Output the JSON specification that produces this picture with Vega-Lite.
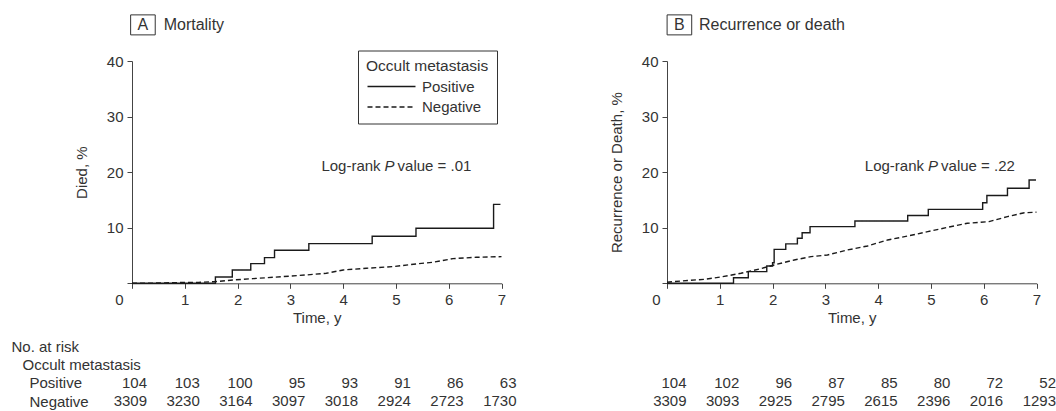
{
  "$schema": "https://vega.github.io/schema/vega-lite/v6.json",
  "padding": {"left": 11, "top": 12, "right": 0, "bottom": 0},
  "config": {
    "font": "Liberation Sans",
    "view": {"stroke": null},
    "axis": {
      "labelFont": "Liberation Sans", "labelFontSize": 15, "labelColor": "#333",
      "titleFont": "Liberation Sans", "titleFontSize": 15, "titleFontWeight": "normal", "titleColor": "#333",
      "domainColor": "#444", "tickColor": "#444", "grid": false, "tickSize": 5, "labelPadding": 4, "labelFlush": false
    },
    "legend": {
      "labelFont": "Liberation Sans", "labelFontSize": 15, "labelColor": "#333",
      "titleFont": "Liberation Sans", "titleFontSize": 15.5, "titleFontWeight": "normal", "titleColor": "#333"
    },
    "text": {"font": "Liberation Sans", "fontSize": 15, "color": "#333"}
  },
  "datasets": {
    "mort": [
      {"group": "Positive", "time": 0, "pct": 0},
      {"group": "Positive", "time": 1.58, "pct": 1.14},
      {"group": "Positive", "time": 1.90, "pct": 2.4},
      {"group": "Positive", "time": 2.25, "pct": 3.54},
      {"group": "Positive", "time": 2.51, "pct": 4.62},
      {"group": "Positive", "time": 2.70, "pct": 5.94},
      {"group": "Positive", "time": 3.35, "pct": 7.14},
      {"group": "Positive", "time": 4.55, "pct": 8.46},
      {"group": "Positive", "time": 5.38, "pct": 9.9},
      {"group": "Positive", "time": 6.85, "pct": 14.2},
      {"group": "Positive", "time": 6.98, "pct": 14.2},
      {"group": "Negative", "time": 0, "pct": 0},
      {"group": "Negative", "time": 0.5, "pct": 0.05},
      {"group": "Negative", "time": 1.0, "pct": 0.15},
      {"group": "Negative", "time": 1.28, "pct": 0.18},
      {"group": "Negative", "time": 1.58, "pct": 0.3},
      {"group": "Negative", "time": 1.91, "pct": 0.6},
      {"group": "Negative", "time": 2.29, "pct": 0.84},
      {"group": "Negative", "time": 2.67, "pct": 1.08},
      {"group": "Negative", "time": 3.3, "pct": 1.5},
      {"group": "Negative", "time": 3.68, "pct": 1.8},
      {"group": "Negative", "time": 4.0, "pct": 2.4},
      {"group": "Negative", "time": 4.44, "pct": 2.7},
      {"group": "Negative", "time": 4.94, "pct": 3.0},
      {"group": "Negative", "time": 5.38, "pct": 3.48},
      {"group": "Negative", "time": 5.7, "pct": 3.78},
      {"group": "Negative", "time": 6.08, "pct": 4.44},
      {"group": "Negative", "time": 6.52, "pct": 4.68},
      {"group": "Negative", "time": 7.0, "pct": 4.8}
    ],
    "rec": [
      {"group": "Positive", "time": 0, "pct": 0},
      {"group": "Positive", "time": 1.26, "pct": 1.0},
      {"group": "Positive", "time": 1.54, "pct": 2.1},
      {"group": "Positive", "time": 1.89, "pct": 3.1},
      {"group": "Positive", "time": 2.0, "pct": 3.7},
      {"group": "Positive", "time": 2.03, "pct": 6.1},
      {"group": "Positive", "time": 2.25, "pct": 7.1},
      {"group": "Positive", "time": 2.47, "pct": 8.1},
      {"group": "Positive", "time": 2.56, "pct": 9.1},
      {"group": "Positive", "time": 2.71, "pct": 10.2},
      {"group": "Positive", "time": 3.56, "pct": 11.2},
      {"group": "Positive", "time": 4.56, "pct": 12.2},
      {"group": "Positive", "time": 4.95, "pct": 13.3},
      {"group": "Positive", "time": 5.98, "pct": 14.5},
      {"group": "Positive", "time": 6.06, "pct": 15.8},
      {"group": "Positive", "time": 6.45, "pct": 17.1},
      {"group": "Positive", "time": 6.86, "pct": 18.6},
      {"group": "Positive", "time": 6.99, "pct": 18.6},
      {"group": "Negative", "time": 0, "pct": 0.2},
      {"group": "Negative", "time": 0.39, "pct": 0.5},
      {"group": "Negative", "time": 0.71, "pct": 0.72},
      {"group": "Negative", "time": 1.02, "pct": 1.14},
      {"group": "Negative", "time": 1.4, "pct": 1.8},
      {"group": "Negative", "time": 1.78, "pct": 2.64},
      {"group": "Negative", "time": 2.03, "pct": 3.3},
      {"group": "Negative", "time": 2.41, "pct": 4.2},
      {"group": "Negative", "time": 2.73, "pct": 4.8},
      {"group": "Negative", "time": 3.04, "pct": 5.1},
      {"group": "Negative", "time": 3.42, "pct": 6.0},
      {"group": "Negative", "time": 3.8, "pct": 6.72},
      {"group": "Negative", "time": 4.18, "pct": 7.8},
      {"group": "Negative", "time": 4.56, "pct": 8.5},
      {"group": "Negative", "time": 4.94, "pct": 9.3},
      {"group": "Negative", "time": 5.32, "pct": 10.08},
      {"group": "Negative", "time": 5.69, "pct": 10.8},
      {"group": "Negative", "time": 6.1, "pct": 11.1},
      {"group": "Negative", "time": 6.45, "pct": 12.0},
      {"group": "Negative", "time": 6.77, "pct": 12.7},
      {"group": "Negative", "time": 7.0, "pct": 12.8}
    ],
    "riskA": [
      {"row": "Positive", "time": 0, "n": 104}, {"row": "Positive", "time": 1, "n": 103},
      {"row": "Positive", "time": 2, "n": 100}, {"row": "Positive", "time": 3, "n": 95},
      {"row": "Positive", "time": 4, "n": 93}, {"row": "Positive", "time": 5, "n": 91},
      {"row": "Positive", "time": 6, "n": 86}, {"row": "Positive", "time": 7, "n": 63},
      {"row": "Negative", "time": 0, "n": 3309}, {"row": "Negative", "time": 1, "n": 3230},
      {"row": "Negative", "time": 2, "n": 3164}, {"row": "Negative", "time": 3, "n": 3097},
      {"row": "Negative", "time": 4, "n": 3018}, {"row": "Negative", "time": 5, "n": 2924},
      {"row": "Negative", "time": 6, "n": 2723}, {"row": "Negative", "time": 7, "n": 1730}
    ],
    "riskB": [
      {"row": "Positive", "time": 0, "n": 104}, {"row": "Positive", "time": 1, "n": 102},
      {"row": "Positive", "time": 2, "n": 96}, {"row": "Positive", "time": 3, "n": 87},
      {"row": "Positive", "time": 4, "n": 85}, {"row": "Positive", "time": 5, "n": 80},
      {"row": "Positive", "time": 6, "n": 72}, {"row": "Positive", "time": 7, "n": 52},
      {"row": "Negative", "time": 0, "n": 3309}, {"row": "Negative", "time": 1, "n": 3093},
      {"row": "Negative", "time": 2, "n": 2925}, {"row": "Negative", "time": 3, "n": 2795},
      {"row": "Negative", "time": 4, "n": 2615}, {"row": "Negative", "time": 5, "n": 2396},
      {"row": "Negative", "time": 6, "n": 2016}, {"row": "Negative", "time": 7, "n": 1293}
    ]
  },
  "resolve": {"scale": {"strokeDash": "independent"}, "legend": {"strokeDash": "independent"}},
  "spacing": 92,
  "hconcat": [
    {
      "spacing": 11,
      "vconcat": [
        {
          "width": 369.5, "height": 222.3,
          "layer": [
            {
              "data": {"name": "mort"},
              "transform": [{"filter": "datum.group === 'Positive'"}],
              "mark": {"type": "line", "interpolate": "step-after", "stroke": "#1a1a1a", "strokeWidth": 1.4},
              "encoding": {
                "x": {"field": "time", "type": "quantitative", "scale": {"domain": [0, 7], "nice": false, "zero": false},
                  "axis": {"title": "Time, y", "values": [0, 1, 2, 3, 4, 5, 6, 7], "format": "d", "titlePadding": 3,
                    "labelOffset": {"condition": {"test": "datum.value === 0", "value": -13}, "value": 0}}},
                "y": {"field": "pct", "type": "quantitative", "scale": {"domain": [0, 40], "nice": false},
                  "axis": {"title": "Died, %", "values": [0, 10, 20, 30, 40], "format": "d", "titlePadding": 17,
                    "labelExpr": "datum.value === 0 ? '' : datum.label"}},
                "strokeDash": {"field": "group", "type": "nominal",
                  "scale": {"domain": ["Positive", "Negative"], "range": [[1, 0], [5, 3]]},
                  "legend": {"title": "Occult metastasis", "orient": "none", "legendX": 226, "legendY": -10.5,
                    "strokeColor": "#333", "padding": 8, "symbolType": "M-1,0H7", "symbolSize": 144,
                    "symbolStrokeWidth": 1.3, "symbolStrokeColor": "#1a1a1a", "symbolFillColor": "transparent",
                    "rowPadding": 4.5, "titlePadding": 5, "labelOffset": 41}}
              }
            },
            {
              "data": {"name": "mort"},
              "transform": [{"filter": "datum.group === 'Negative'"}],
              "mark": {"type": "line", "stroke": "#1a1a1a", "strokeWidth": 1.4},
              "encoding": {
                "x": {"field": "time", "type": "quantitative", "scale": {"domain": [0, 7], "nice": false, "zero": false},
                  "axis": {"title": "Time, y", "values": [0, 1, 2, 3, 4, 5, 6, 7], "format": "d", "titlePadding": 3,
                    "labelOffset": {"condition": {"test": "datum.value === 0", "value": -13}, "value": 0}}},
                "y": {"field": "pct", "type": "quantitative", "scale": {"domain": [0, 40], "nice": false},
                  "axis": {"title": "Died, %", "values": [0, 10, 20, 30, 40], "format": "d", "titlePadding": 17,
                    "labelExpr": "datum.value === 0 ? '' : datum.label"}},
                "strokeDash": {"field": "group", "type": "nominal",
                  "scale": {"domain": ["Positive", "Negative"], "range": [[1, 0], [5, 3]]}}
              }
            },
            {
              "data": {"values": [{"label": "Log-rank"}]},
              "mark": {"type": "text", "align": "right", "baseline": "middle", "dx": -9},
              "encoding": {"x": {"datum": 4.88}, "y": {"datum": 21.1}, "text": {"field": "label"}}
            },
            {
              "data": {"values": [{"label": "P"}]},
              "mark": {"type": "text", "fontStyle": "italic", "align": "center", "baseline": "middle"},
              "encoding": {"x": {"datum": 4.88}, "y": {"datum": 21.1}, "text": {"field": "label"}}
            },
            {
              "data": {"values": [{"label": "value = .01"}]},
              "mark": {"type": "text", "align": "left", "baseline": "middle", "dx": 8},
              "encoding": {"x": {"datum": 4.88}, "y": {"datum": 21.1}, "text": {"field": "label"}}
            },
            {
              "data": {"values": [{"label": "A"}]},
              "mark": {"type": "point", "shape": "M-1.23,-1H1.23V1H-1.23Z", "size": 400, "filled": false,
                "stroke": "#333", "strokeWidth": 1, "opacity": 1},
              "encoding": {"x": {"datum": 0.207}, "y": {"datum": 46.5}}
            },
            {
              "data": {"values": [{"label": "A"}]},
              "mark": {"type": "text", "fontSize": 16, "align": "center", "baseline": "middle"},
              "encoding": {"x": {"datum": 0.207}, "y": {"datum": 46.5}, "text": {"field": "label"}}
            },
            {
              "data": {"values": [{"label": "Mortality"}]},
              "mark": {"type": "text", "fontSize": 16, "align": "left", "baseline": "middle"},
              "encoding": {"x": {"datum": 0.6}, "y": {"datum": 46.5}, "text": {"field": "label"}}
            }
          ]
        },
        {
          "width": 369.5, "height": 73.2,
          "data": {"name": "riskA"},
          "mark": {"type": "text", "align": "right", "baseline": "middle", "dx": 15},
          "encoding": {
            "x": {"field": "time", "type": "quantitative", "scale": {"domain": [0, 7], "nice": false, "zero": false}, "axis": null},
            "y": {"field": "row", "type": "nominal",
              "scale": {"type": "point", "domain": ["No. at risk", "Occult metastasis", "Positive", "Negative"], "padding": 0.5},
              "axis": {"title": null, "domain": false, "ticks": false, "labelAlign": "left", "labelBaseline": "middle",
                "labelPadding": {"condition": [
                  {"test": "datum.value === 'No. at risk'", "value": 121},
                  {"test": "datum.value === 'Occult metastasis'", "value": 110}
                ], "value": 103}}},
            "text": {"field": "n", "type": "quantitative"}
          }
        }
      ]
    },
    {
      "spacing": 11,
      "vconcat": [
        {
          "width": 369.5, "height": 222.3,
          "layer": [
            {
              "data": {"name": "rec"},
              "transform": [{"filter": "datum.group === 'Positive'"}],
              "mark": {"type": "line", "interpolate": "step-after", "stroke": "#1a1a1a", "strokeWidth": 1.4},
              "encoding": {
                "x": {"field": "time", "type": "quantitative", "scale": {"domain": [0, 7], "nice": false, "zero": false},
                  "axis": {"title": "Time, y", "values": [0, 1, 2, 3, 4, 5, 6, 7], "format": "d", "titlePadding": 3,
                    "labelOffset": {"condition": {"test": "datum.value === 0", "value": -11}, "value": 0}}},
                "y": {"field": "pct", "type": "quantitative", "scale": {"domain": [0, 40], "nice": false},
                  "axis": {"title": "Recurrence or Death, %", "values": [0, 10, 20, 30, 40], "format": "d", "titlePadding": 17,
                    "labelExpr": "datum.value === 0 ? '' : datum.label"}},
                "strokeDash": {"field": "group", "type": "nominal",
                  "scale": {"domain": ["Positive", "Negative"], "range": [[1, 0], [5, 3]]}, "legend": null}
              }
            },
            {
              "data": {"name": "rec"},
              "transform": [{"filter": "datum.group === 'Negative'"}],
              "mark": {"type": "line", "stroke": "#1a1a1a", "strokeWidth": 1.4},
              "encoding": {
                "x": {"field": "time", "type": "quantitative", "scale": {"domain": [0, 7], "nice": false, "zero": false},
                  "axis": {"title": "Time, y", "values": [0, 1, 2, 3, 4, 5, 6, 7], "format": "d", "titlePadding": 3,
                    "labelOffset": {"condition": {"test": "datum.value === 0", "value": -11}, "value": 0}}},
                "y": {"field": "pct", "type": "quantitative", "scale": {"domain": [0, 40], "nice": false},
                  "axis": {"title": "Recurrence or Death, %", "values": [0, 10, 20, 30, 40], "format": "d", "titlePadding": 17,
                    "labelExpr": "datum.value === 0 ? '' : datum.label"}},
                "strokeDash": {"field": "group", "type": "nominal",
                  "scale": {"domain": ["Positive", "Negative"], "range": [[1, 0], [5, 3]]}, "legend": null}
              }
            },
            {
              "data": {"values": [{"label": "Log-rank"}]},
              "mark": {"type": "text", "align": "right", "baseline": "middle", "dx": -9},
              "encoding": {"x": {"datum": 5.04}, "y": {"datum": 21.1}, "text": {"field": "label"}}
            },
            {
              "data": {"values": [{"label": "P"}]},
              "mark": {"type": "text", "fontStyle": "italic", "align": "center", "baseline": "middle"},
              "encoding": {"x": {"datum": 5.04}, "y": {"datum": 21.1}, "text": {"field": "label"}}
            },
            {
              "data": {"values": [{"label": "value = .22"}]},
              "mark": {"type": "text", "align": "left", "baseline": "middle", "dx": 8},
              "encoding": {"x": {"datum": 5.04}, "y": {"datum": 21.1}, "text": {"field": "label"}}
            },
            {
              "data": {"values": [{"label": "B"}]},
              "mark": {"type": "point", "shape": "M-1.23,-1H1.23V1H-1.23Z", "size": 400, "filled": false,
                "stroke": "#333", "strokeWidth": 1, "opacity": 1},
              "encoding": {"x": {"datum": 0.235}, "y": {"datum": 46.5}}
            },
            {
              "data": {"values": [{"label": "B"}]},
              "mark": {"type": "text", "fontSize": 16, "align": "center", "baseline": "middle"},
              "encoding": {"x": {"datum": 0.235}, "y": {"datum": 46.5}, "text": {"field": "label"}}
            },
            {
              "data": {"values": [{"label": "Recurrence or death"}]},
              "mark": {"type": "text", "fontSize": 16, "align": "left", "baseline": "middle"},
              "encoding": {"x": {"datum": 0.607}, "y": {"datum": 46.5}, "text": {"field": "label"}}
            }
          ]
        },
        {
          "width": 369.5, "height": 73.2,
          "data": {"name": "riskB"},
          "mark": {"type": "text", "align": "right", "baseline": "middle", "dx": 19.5},
          "encoding": {
            "x": {"field": "time", "type": "quantitative", "scale": {"domain": [0, 7], "nice": false, "zero": false}, "axis": null},
            "y": {"field": "row", "type": "nominal",
              "scale": {"type": "point", "domain": ["No. at risk", "Occult metastasis", "Positive", "Negative"], "padding": 0.5},
              "axis": null},
            "text": {"field": "n", "type": "quantitative"}
          }
        }
      ]
    }
  ]
}
